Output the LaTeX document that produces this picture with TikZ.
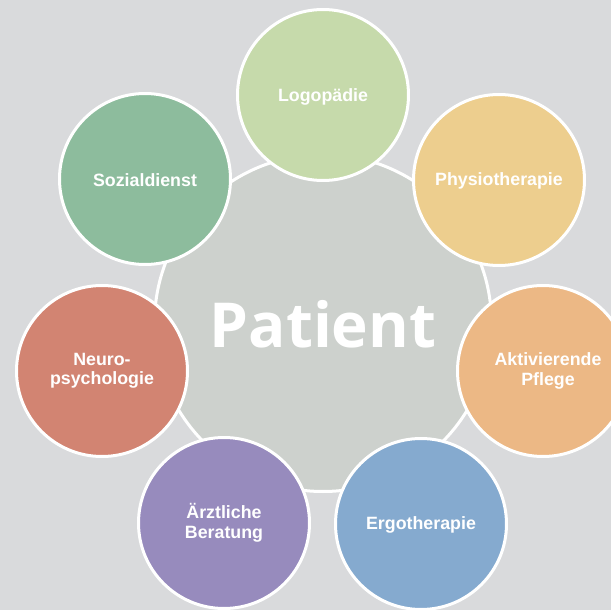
\documentclass[tikz,border=0pt]{standalone}
\usepackage{fontspec}
\setmainfont{Liberation Sans}
\newfontfamily\patfont{Open Sans}
\definecolor{bgc}{HTML}{D9DADC}
\definecolor{cenc}{HTML}{CDD1CD}
\definecolor{logoc}{HTML}{C6DAAB}
\definecolor{physc}{HTML}{EDCE8E}
\definecolor{aktc}{HTML}{ECB885}
\definecolor{ergoc}{HTML}{85AACF}
\definecolor{arztc}{HTML}{978BBD}
\definecolor{neurc}{HTML}{D28472}
\definecolor{sozc}{HTML}{8DBC9D}
\tikzset{
  bubble/.style={circle, draw=white, line width=3pt, minimum size=171pt, inner sep=0pt},
  lbl/.style={text=white, font=\fontsize{17.8}{19.5}\selectfont\bfseries, align=center, inner sep=0pt},
}
\begin{document}
\begin{tikzpicture}[x=1pt,y=-1pt]
\useasboundingbox (0,0) rectangle (611,610);
\fill[bgc] (0,0) rectangle (611,610);
\node[circle, draw=white, line width=3pt, fill=cenc, minimum size=337pt, inner sep=0pt] (pat) at (323,323) {};
\node[text=white, font=\patfont\fontsize{62}{66}\selectfont\bfseries, inner sep=0pt, anchor=base] (pattxt) at (323,347) {Patient};
\node[bubble, fill=logoc] (logo) at (323,95) {};
\node[bubble, fill=physc] (phys) at (499,180) {};
\node[bubble, fill=aktc] (akt) at (543,371) {};
\node[bubble, fill=ergoc] (ergo) at (421,524) {};
\node[bubble, fill=arztc] (arzt) at (224,523) {};
\node[bubble, fill=neurc] (neur) at (102,371) {};
\node[bubble, fill=sozc] (soz) at (145,179) {};
\node[lbl] at ([yshift=-2pt]logo.center) {Logopädie};
\node[lbl] at ([yshift=-1pt]phys.center) {Physiotherapie};
\node[lbl] at ([xshift=5pt]akt.center) {Aktivierende\\Pflege};
\node[lbl] at ([yshift=-1pt]ergo.center) {Ergotherapie};
\node[lbl] at (arzt.center) {Ärztliche\\Beratung};
\node[lbl] at (neur.center) {Neuro-\\psychologie};
\node[lbl] at ([yshift=-1pt]soz.center) {Sozialdienst};
\end{tikzpicture}
\end{document}
